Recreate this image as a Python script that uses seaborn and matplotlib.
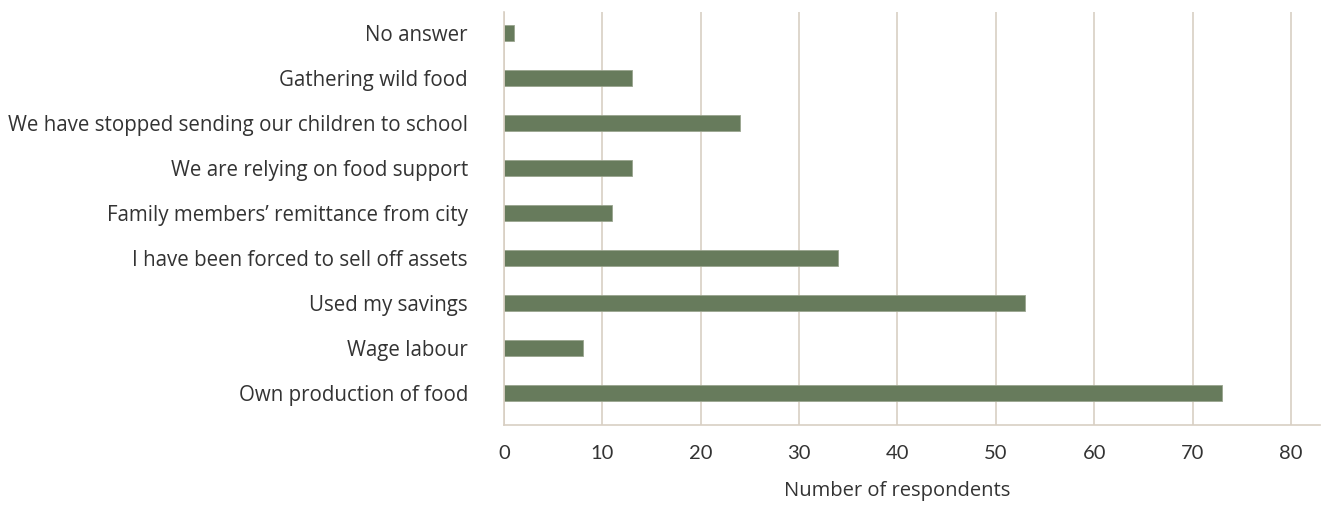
import matplotlib
matplotlib.use("Agg")
import matplotlib.pyplot as plt
import seaborn as sns
import pandas as pd

categories = [
    "No answer",
    "Gathering wild food",
    "We have stopped sending our children to school",
    "We are relying on food support",
    "Family members\u2019 remittance from city",
    "I have been forced to sell off assets",
    "Used my savings",
    "Wage labour",
    "Own production of food",
]
values = [1, 13, 24, 13, 11, 34, 53, 8, 73]
xticks = [0, 10, 20, 30, 40, 50, 60, 70, 80]

sns.set_theme(style="white")
plt.rcParams['font.family'] = ['Open Sans', 'DejaVu Sans']

df = pd.DataFrame({"category": categories, "value": values})

fig = plt.figure(figsize=(13.23, 5.05), dpi=100)
ax = fig.add_axes([0.381, 0.158, 0.617, 0.818])

sns.barplot(data=df, x="value", y="category", orient="h", color="#677b5c",
            saturation=1, width=0.36, edgecolor="#9aa58f", linewidth=0.6, ax=ax)

grid_c = "#d8cfc3"
ax.set_xlim(0, 83)
ax.set_ylim(8.71, -0.47)
ax.set_xticks(xticks)
ax.xaxis.grid(True, color=grid_c, linewidth=1.2)
ax.yaxis.grid(False)
ax.set_axisbelow(True)
for s in ["top", "right"]:
    ax.spines[s].set_visible(False)
ax.spines["left"].set_color(grid_c)
ax.spines["bottom"].set_color(grid_c)
ax.spines["left"].set_linewidth(1.2)
ax.spines["bottom"].set_linewidth(1.2)
ax.tick_params(axis="both", length=0, colors="#333333")
ax.tick_params(axis="y", labelsize=14.8, pad=26)
ax.tick_params(axis="x", labelsize=14.5, pad=14)
for lbl in ax.get_xticklabels():
    lbl.set_fontfamily(['Lato', 'DejaVu Sans'])
ax.set_ylabel("")
ax.set_xlabel("Number of respondents", fontsize=14.5, color="#333333")
ax.xaxis.set_label_coords(0.482, -0.135)

fig.savefig("out.png", dpi=100)
